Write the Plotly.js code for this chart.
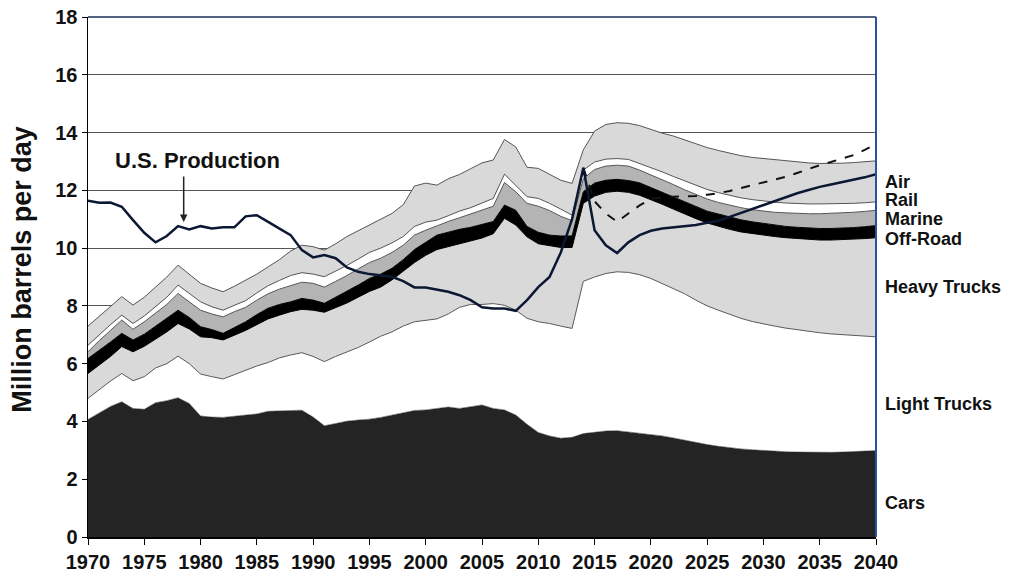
<!DOCTYPE html>
<html>
<head>
<meta charset="utf-8">
<script src="https://cdn.plot.ly/plotly-3.0.1.min.js"></script>
<style>
html,body{margin:0;padding:0;background:#fff;}
#chart{width:1020px;height:572px;}
</style>
</head>
<body>
<div id="chart"></div>
<script>
// ---- Data (million barrels per day); cumulative top of each stacked band ----
var years = [1970,1971,1972,1973,1974,1975,1976,1977,1978,1979,
  1980,1981,1982,1983,1984,1985,1986,1987,1988,1989,
  1990,1991,1992,1993,1994,1995,1996,1997,1998,1999,
  2000,2001,2002,2003,2004,2005,2006,2007,2008,2009,
  2010,2011,2012,2013,2014,2015,2016,2017,2018,2019,
  2020,2021,2022,2023,2024,2025,2026,2027,2028,2029,
  2030,2031,2032,2033,2034,2035,2036,2037,2038,2039,2040];

var carsTop = [4.07,4.30,4.52,4.68,4.45,4.42,4.65,4.72,4.82,4.62,
  4.19,4.15,4.14,4.18,4.21,4.26,4.35,4.37,4.37,4.39,
  4.15,3.85,3.93,4.01,4.05,4.08,4.14,4.22,4.32,4.38,
  4.40,4.46,4.50,4.45,4.50,4.57,4.45,4.40,4.22,3.90,
  3.62,3.50,3.42,3.45,3.58,3.63,3.67,3.68,3.64,3.60,
  3.56,3.50,3.43,3.35,3.27,3.20,3.14,3.09,3.05,3.02,
  2.99,2.97,2.95,2.94,2.93,2.93,2.93,2.94,2.95,2.97,2.99];

var lightTrucksTop = [4.80,5.10,5.40,5.66,5.41,5.55,5.85,6.00,6.26,6.00,
  5.64,5.55,5.47,5.62,5.78,5.92,6.04,6.20,6.30,6.38,
  6.25,6.07,6.25,6.40,6.56,6.75,6.95,7.10,7.30,7.45,
  7.50,7.55,7.72,7.95,8.05,8.05,8.08,8.02,7.85,7.57,
  7.45,7.39,7.30,7.22,8.85,9.00,9.12,9.18,9.16,9.08,
  8.95,8.78,8.60,8.42,8.20,8.00,7.85,7.70,7.57,7.46,
  7.37,7.30,7.23,7.17,7.12,7.07,7.03,7.00,6.97,6.95,6.93];

var heavyTrucksTop = [5.66,5.95,6.25,6.59,6.41,6.60,6.85,7.10,7.39,7.20,
  6.93,6.90,6.82,6.98,7.15,7.35,7.55,7.68,7.80,7.88,
  7.85,7.78,7.95,8.10,8.30,8.50,8.65,8.90,9.20,9.50,
  9.75,9.95,10.05,10.15,10.25,10.35,10.50,11.03,10.80,10.39,
  10.15,10.08,10.02,10.02,11.55,11.80,11.93,11.97,11.93,11.83,
  11.68,11.52,11.35,11.18,11.02,10.87,10.75,10.65,10.56,10.50,
  10.45,10.40,10.36,10.33,10.30,10.28,10.28,10.29,10.31,10.33,10.36];

var offRoadTop = [6.18,6.45,6.75,7.05,6.82,7.02,7.30,7.55,7.85,7.60,
  7.28,7.18,7.05,7.25,7.45,7.70,7.92,8.05,8.14,8.26,
  8.20,8.09,8.30,8.50,8.72,8.95,9.10,9.30,9.60,9.95,
  10.20,10.45,10.55,10.65,10.72,10.82,10.92,11.49,11.31,10.75,
  10.55,10.45,10.42,10.42,11.95,12.25,12.35,12.38,12.34,12.26,
  12.10,11.93,11.78,11.62,11.45,11.28,11.18,11.08,10.98,10.91,
  10.85,10.80,10.75,10.72,10.69,10.68,10.68,10.69,10.71,10.74,10.78];

var marineTop = [6.41,6.80,7.15,7.51,7.19,7.45,7.75,8.05,8.43,8.15,
  7.85,7.72,7.62,7.80,7.95,8.20,8.42,8.58,8.70,8.82,
  8.78,8.65,8.85,9.05,9.28,9.50,9.65,9.85,10.10,10.45,
  10.62,10.78,10.92,11.05,11.18,11.30,11.45,12.27,11.95,11.55,
  11.45,11.30,11.10,10.95,12.40,12.72,12.84,12.87,12.84,12.70,
  12.54,12.38,12.20,12.02,11.85,11.70,11.58,11.48,11.40,11.33,
  11.28,11.24,11.22,11.20,11.19,11.19,11.20,11.22,11.24,11.27,11.31];

var railTop = [6.64,7.00,7.35,7.68,7.39,7.65,7.98,8.30,8.72,8.42,
  8.14,7.97,7.85,8.02,8.18,8.45,8.70,8.88,9.05,9.15,
  9.10,9.01,9.20,9.40,9.62,9.85,10.00,10.18,10.40,10.75,
  10.90,10.97,11.12,11.28,11.40,11.55,11.72,12.56,12.18,11.78,
  11.72,11.55,11.35,11.14,12.70,12.98,13.08,13.10,13.07,12.93,
  12.80,12.64,12.48,12.33,12.18,12.03,11.92,11.82,11.74,11.68,
  11.63,11.59,11.56,11.54,11.53,11.53,11.53,11.54,11.55,11.57,11.60];

var airTop = [7.30,7.65,8.00,8.32,8.03,8.30,8.65,9.00,9.41,9.10,
  8.78,8.62,8.49,8.68,8.88,9.10,9.35,9.60,9.90,10.10,
  10.05,9.93,10.15,10.40,10.60,10.80,11.00,11.20,11.50,12.15,
  12.25,12.18,12.40,12.55,12.75,12.95,13.05,13.76,13.50,12.80,
  12.76,12.55,12.35,12.24,13.40,14.05,14.28,14.34,14.32,14.24,
  14.10,13.98,13.88,13.74,13.60,13.48,13.38,13.28,13.20,13.14,
  13.10,13.05,13.01,12.98,12.95,12.93,12.93,12.94,12.96,12.99,13.02];

var usProduction = [11.64,11.57,11.58,11.43,10.97,10.53,10.20,10.42,10.76,10.65,
  10.76,10.68,10.72,10.72,11.10,11.14,10.91,10.68,10.45,9.93,
  9.68,9.76,9.65,9.33,9.18,9.10,9.05,9.01,8.86,8.64,
  8.64,8.57,8.49,8.37,8.20,7.95,7.91,7.91,7.83,8.20,
  8.65,9.00,9.85,11.00,12.78,10.62,10.10,9.83,10.20,10.45,
  10.60,10.68,10.72,10.75,10.80,10.88,10.95,11.08,11.22,11.36,
  11.50,11.64,11.78,11.90,12.01,12.12,12.20,12.28,12.35,12.45,12.56];

var projectionYears = [2014,2015,2016,2017,2018,2019,2020,2021,2022,2023,2024,2025,2026,2027,
  2028,2029,2030,2031,2032,2033,2034,2035,2036,2037,2038,2039,2040];
var altProduction = [12.78,11.62,11.20,10.91,11.20,11.48,11.70,11.76,11.78,11.78,11.80,11.85,11.90,11.98,
  12.08,12.18,12.28,12.38,12.47,12.60,12.74,12.87,12.98,13.10,13.22,13.40,13.60];

var bandNames = ["Cars","Light Trucks","Heavy Trucks","Off-Road","Marine","Rail","Air"];
var bandLabelY = [1.19, 4.60, 8.64, 10.33, 11.02, 11.66, 12.30];

// ---- Traces ----
var FONT = "Arial, 'Liberation Sans', Helvetica, sans-serif";
function band(name, y, fillcolor, linecolor, lw, fill) {
  return {x: years, y: y, name: name, type: 'scatter', mode: 'lines',
    fill: fill || 'tonexty', fillcolor: fillcolor,
    line: {color: linecolor, width: lw}, hoverinfo: 'skip', showlegend: false};
}
var traces = [
  band(bandNames[0], carsTop, '#242424', '#242424', 0.5, 'tozeroy'),
  band(bandNames[1], lightTrucksTop, '#ffffff', '#5a5a5a', 1),
  band(bandNames[2], heavyTrucksTop, '#d9d9d9', '#000000', 1),
  band(bandNames[3], offRoadTop, '#000000', '#000000', 1),
  band(bandNames[4], marineTop, '#b4b4b4', '#555555', 1),
  band(bandNames[5], railTop, '#ffffff', '#555555', 1),
  band(bandNames[6], airTop, '#d9d9d9', '#555555', 1),
  {x: projectionYears, y: altProduction, type: 'scatter', mode: 'lines',
   line: {color: '#111111', width: 2, dash: 'dash'}, hoverinfo: 'skip', showlegend: false},
  {x: years, y: usProduction, name: 'U.S. Production', type: 'scatter', mode: 'lines',
   line: {color: '#0b1733', width: 2.5}, hoverinfo: 'skip', showlegend: false}
];

var annotations = [];
for (var i = 0; i < bandNames.length; i++) {
  annotations.push({xref: 'paper', yref: 'y', x: 1, y: bandLabelY[i], xanchor: 'left', yanchor: 'middle',
    xshift: 8, text: bandNames[i], showarrow: false, borderpad: 0,
    font: {family: FONT, size: 18, color: '#111', weight: 'bold'}});
}
annotations.push({xref: 'x', yref: 'y', x: 1979.7, y: 13.03, text: 'U.S. Production', showarrow: false,
  xanchor: 'center', yanchor: 'middle', font: {family: FONT, size: 22, color: '#111', weight: 'bold'}});
annotations.push({xref: 'x', yref: 'y', x: 1978.5, y: 10.9, ax: 0, ay: -47, text: '', showarrow: true,
  arrowhead: 2, arrowsize: 1, arrowwidth: 1.5, arrowcolor: '#222'});
annotations.push({xref: 'paper', yref: 'paper', x: -0.083, y: 0.515, textangle: -90, text: 'Million barrels per day',
  showarrow: false, xanchor: 'center', yanchor: 'middle',
  font: {family: FONT, size: 27, color: '#111', weight: 'bold'}});

var layout = {
  width: 1020, height: 572,
  margin: {l: 88, r: 144, t: 17, b: 35},
  paper_bgcolor: '#ffffff', plot_bgcolor: '#ffffff',
  xaxis: {range: [1970, 2040], tick0: 1970, dtick: 5, showgrid: false, zeroline: false,
    showline: true, linecolor: '#000', linewidth: 1.5, ticks: 'outside', ticklen: 6, tickcolor: '#000',
    tickfont: {family: FONT, size: 20, color: '#111', weight: 'bold'}, fixedrange: true},
  yaxis: {range: [0, 18], dtick: 2, showgrid: true, gridcolor: '#555', gridwidth: 1, zeroline: false,
    showline: true, linecolor: '#000', linewidth: 1.5, ticks: 'outside', ticklen: 5, tickcolor: '#000',
    tickfont: {family: FONT, size: 20, color: '#111', weight: 'bold'}, fixedrange: true},
  shapes: [
    {type: 'line', xref: 'paper', yref: 'paper', x0: 0, x1: 1, y0: 1, y1: 1, line: {color: '#1c2f5a', width: 1.5}},
    {type: 'line', xref: 'paper', yref: 'paper', x0: 1, x1: 1, y0: 0, y1: 1, line: {color: '#2a5298', width: 2}}
  ],
  annotations: annotations
};

Plotly.newPlot('chart', traces, layout, {displayModeBar: false, staticPlot: true});
</script>
</body>
</html>
